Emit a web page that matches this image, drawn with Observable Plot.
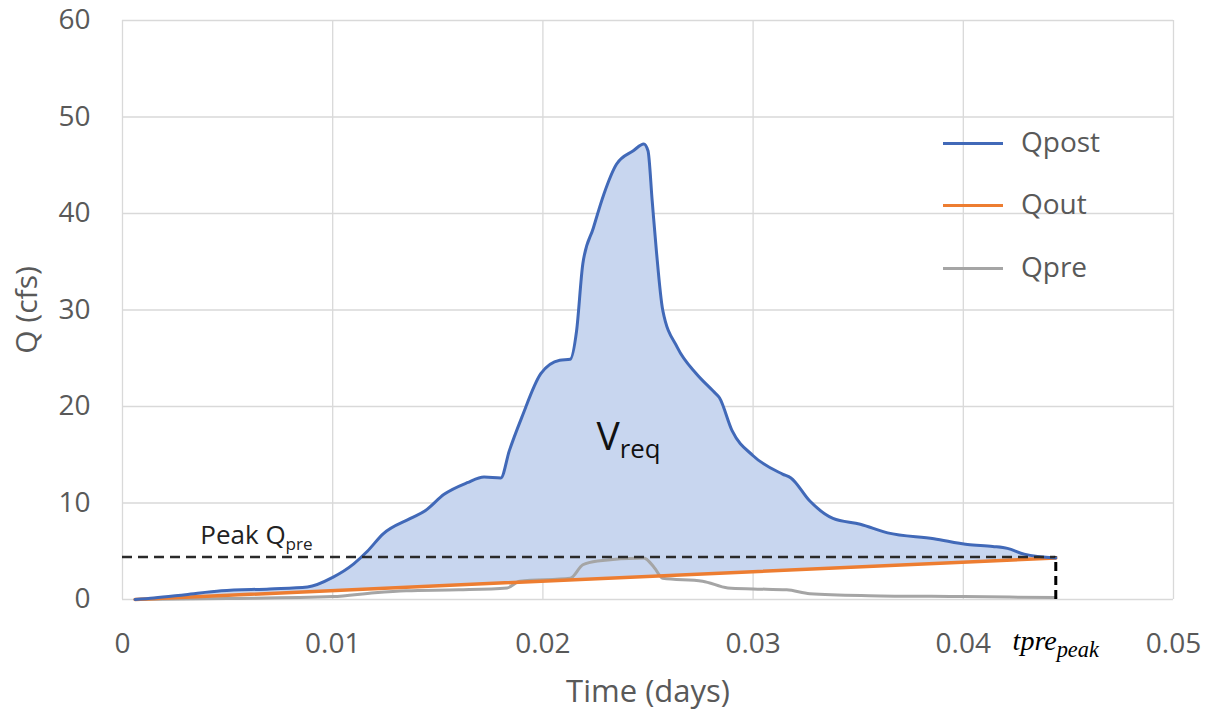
<!DOCTYPE html>
<html>
<head>
<meta charset="utf-8">
<script src="https://cdn.jsdelivr.net/npm/d3@7"></script>
<script src="https://cdn.jsdelivr.net/npm/@observablehq/plot@0.6"></script>
<style>
  html, body { margin: 0; padding: 0; background: #fff; }
  #wrap { position: relative; width: 1211px; height: 715px; font-family: "Open Sans", sans-serif; }
  .lg-line { position: absolute; height: 3px; width: 60px; left: 943px; }
  .lg-text { position: absolute; left: 1021px; font-size: 28px; color: #595959; line-height: 1; }
</style>
</head>
<body>
<div id="wrap"></div>
<script>
// ---- data ----
const postT = [0.0006, 0.0015, 0.0030, 0.0047, 0.0070, 0.0088, 0.0100, 0.0110, 0.01165, 0.0124, 0.0137, 0.0144, 0.0153, 0.0164, 0.0172, 0.0180, 0.0184, 0.0190, 0.0199, 0.0208, 0.0213, 0.0216, 0.0219, 0.0224, 0.0229, 0.0235, 0.0243, 0.0248, 0.0250, 0.0252, 0.0254, 0.0257, 0.0264, 0.0273, 0.0281, 0.0284, 0.0290, 0.0300, 0.0314, 0.0318, 0.0327, 0.0338, 0.0351, 0.0364, 0.0386, 0.0402, 0.0414, 0.0421, 0.0429, 0.0444];
const postQ = [0, 0.15, 0.5, 0.9, 1.1, 1.3, 2.3, 3.7, 5.0, 6.8, 8.4, 9.2, 10.9, 12.1, 12.7, 12.6, 15.4, 18.9, 23.4, 24.8, 24.9, 27.8, 34.8, 38.5, 42.0, 45.1, 46.5, 47.2, 46.5, 41.3, 36.1, 30.0, 26.1, 23.4, 21.6, 20.9, 17.5, 14.9, 13.0, 12.6, 10.2, 8.4, 7.8, 6.9, 6.3, 5.7, 5.5, 5.3, 4.7, 4.3];

const outT = [0.0006, 0.0444];
const outQ = [0, 4.3];

const preT = [0.0006, 0.0050, 0.0100, 0.0120, 0.0135, 0.0160, 0.0183, 0.0189, 0.0213, 0.0219, 0.0226, 0.0248, 0.0253, 0.0257, 0.0276, 0.0288, 0.0300, 0.0316, 0.0327, 0.0355, 0.0400, 0.0444];
const preQ = [0, 0.1, 0.3, 0.7, 0.9, 1.0, 1.2, 1.9, 2.2, 3.6, 4.0, 4.3, 3.3, 2.2, 1.9, 1.2, 1.1, 1.0, 0.6, 0.4, 0.3, 0.2];

const peakQpre = 4.4;
const tprePeak = 0.0444;

const xTicks = [0, 0.01, 0.02, 0.03, 0.04, 0.05];
const yTicks = [0, 10, 20, 30, 40, 50, 60];

const seriesNames = ["Qpost", "Qout", "Qpre"];
const seriesColors = ["#4169b8", "#ed7d31", "#a5a5a5"];

const annoText = ["Peak Q|pre", "V|req"];
const annoT = [0.0037, 0.02255];
const annoQ = [6.6, 16.8];
const tpreLabel = "tpre|peak";

// ---- build tables ----
const post = postT.map((t, i) => ({t, q: postQ[i]}));
const out = outT.map((t, i) => ({t, q: outQ[i]}));
const pre = preT.map((t, i) => ({t, q: preQ[i]}));
// lower edge of V_req fill follows Qout (straight line between its end points)
const outAt = t => outQ[0] + (outQ[1] - outQ[0]) * (t - outT[0]) / (outT[1] - outT[0]);
const fill = post.map(d => ({t: d.t, q1: outAt(d.t), q2: d.q}));
const anno = annoText.map((s, i) => ({s, t: annoT[i], q: annoQ[i]}));

const chart = Plot.plot({
  width: 1211,
  height: 715,
  marginLeft: 122,
  marginRight: 38,
  marginTop: 20,
  marginBottom: 116,
  style: {fontFamily: "'Open Sans', sans-serif", background: "#fff"},
  x: {domain: [0, 0.05]},
  y: {domain: [0, 60]},
  marks: [
    Plot.gridX(xTicks, {stroke: "#d9d9d9", strokeOpacity: 1, strokeWidth: 1.3}),
    Plot.gridY(yTicks, {stroke: "#d9d9d9", strokeOpacity: 1, strokeWidth: 1.3}),
    Plot.axisX({ticks: xTicks, tickSize: 0, tickPadding: 34, fontSize: 28, color: "#595959",
      tickFormat: d => d === 0 ? "0" : d.toFixed(2), label: null}),
    Plot.axisX({ticks: [], label: "Time (days)", labelAnchor: "center", labelOffset: 102,
      labelArrow: "none", fontSize: 31, color: "#595959"}),
    Plot.axisY({ticks: yTicks, tickSize: 0, tickPadding: 32, fontSize: 28, color: "#595959", label: null}),
    Plot.axisY({ticks: [], label: "Q (cfs)", labelAnchor: "center", labelOffset: 107,
      labelArrow: "none", fontSize: 30, color: "#595959"}),
    Plot.areaY(fill, {x: "t", y1: "q1", y2: "q2", fill: "#c8d6ef", curve: "monotone-x"}),
    Plot.line(pre, {x: "t", y: "q", stroke: seriesColors[2], strokeWidth: 3, curve: "monotone-x"}),
    Plot.line(out, {x: "t", y: "q", stroke: seriesColors[1], strokeWidth: 3.5}),
    Plot.line(post, {x: "t", y: "q", stroke: seriesColors[0], strokeWidth: 3, curve: "monotone-x"}),
    Plot.ruleY([peakQpre], {x1: 0, x2: tprePeak, stroke: "#2a2a2a", strokeWidth: 2.4, strokeDasharray: "10,6"}),
    Plot.ruleX([tprePeak], {y1: 0, y2: peakQpre, stroke: "#000", strokeWidth: 3, strokeDasharray: "9,5"}),
    Plot.text([anno[0]], {x: "t", y: "q", text: "s", fontSize: 26, fill: "#222", textAnchor: "start"}),
    Plot.text([anno[1]], {x: "t", y: "q", text: "s", fontSize: 39, fill: "#111", textAnchor: "start"}),
    Plot.text([tpreLabel], {x: tprePeak, y: 0, dy: 42, text: d => d, fontSize: 28, fill: "#000",
      fontFamily: "'Liberation Serif', serif", fontStyle: "italic", textAnchor: "middle"})
  ]
});

const wrap = document.getElementById("wrap");
wrap.appendChild(chart);

// subscripts: "main|sub"
const subRatio = {"Peak Q|pre": 0.66, "V|req": 0.66, "tpre|peak": 0.8};
d3.select(chart).selectAll("text").each(function() {
  const el = this;
  if (el.querySelector("tspan")) return;
  const s = el.textContent;
  if (!s.includes("|")) return;
  const [a, b] = s.split("|");
  const r = subRatio[s] || 0.68;
  const fs = parseFloat(getComputedStyle(el).fontSize) || 20;
  el.textContent = "";
  d3.select(el).append("tspan").text(a);
  d3.select(el).append("tspan").text(b).attr("font-size", fs * r).attr("dy", fs * 0.22);
});

// legend inside the plot area
const legendY = [143, 205, 268];
seriesNames.forEach((n, i) => {
  const ln = document.createElement("div");
  ln.className = "lg-line";
  ln.style.top = (legendY[i] - 1.5) + "px";
  ln.style.background = seriesColors[i];
  wrap.appendChild(ln);
  const tx = document.createElement("div");
  tx.className = "lg-text";
  tx.style.top = (legendY[i] - 16) + "px";
  tx.textContent = n;
  wrap.appendChild(tx);
});
</script>
</body>
</html>
